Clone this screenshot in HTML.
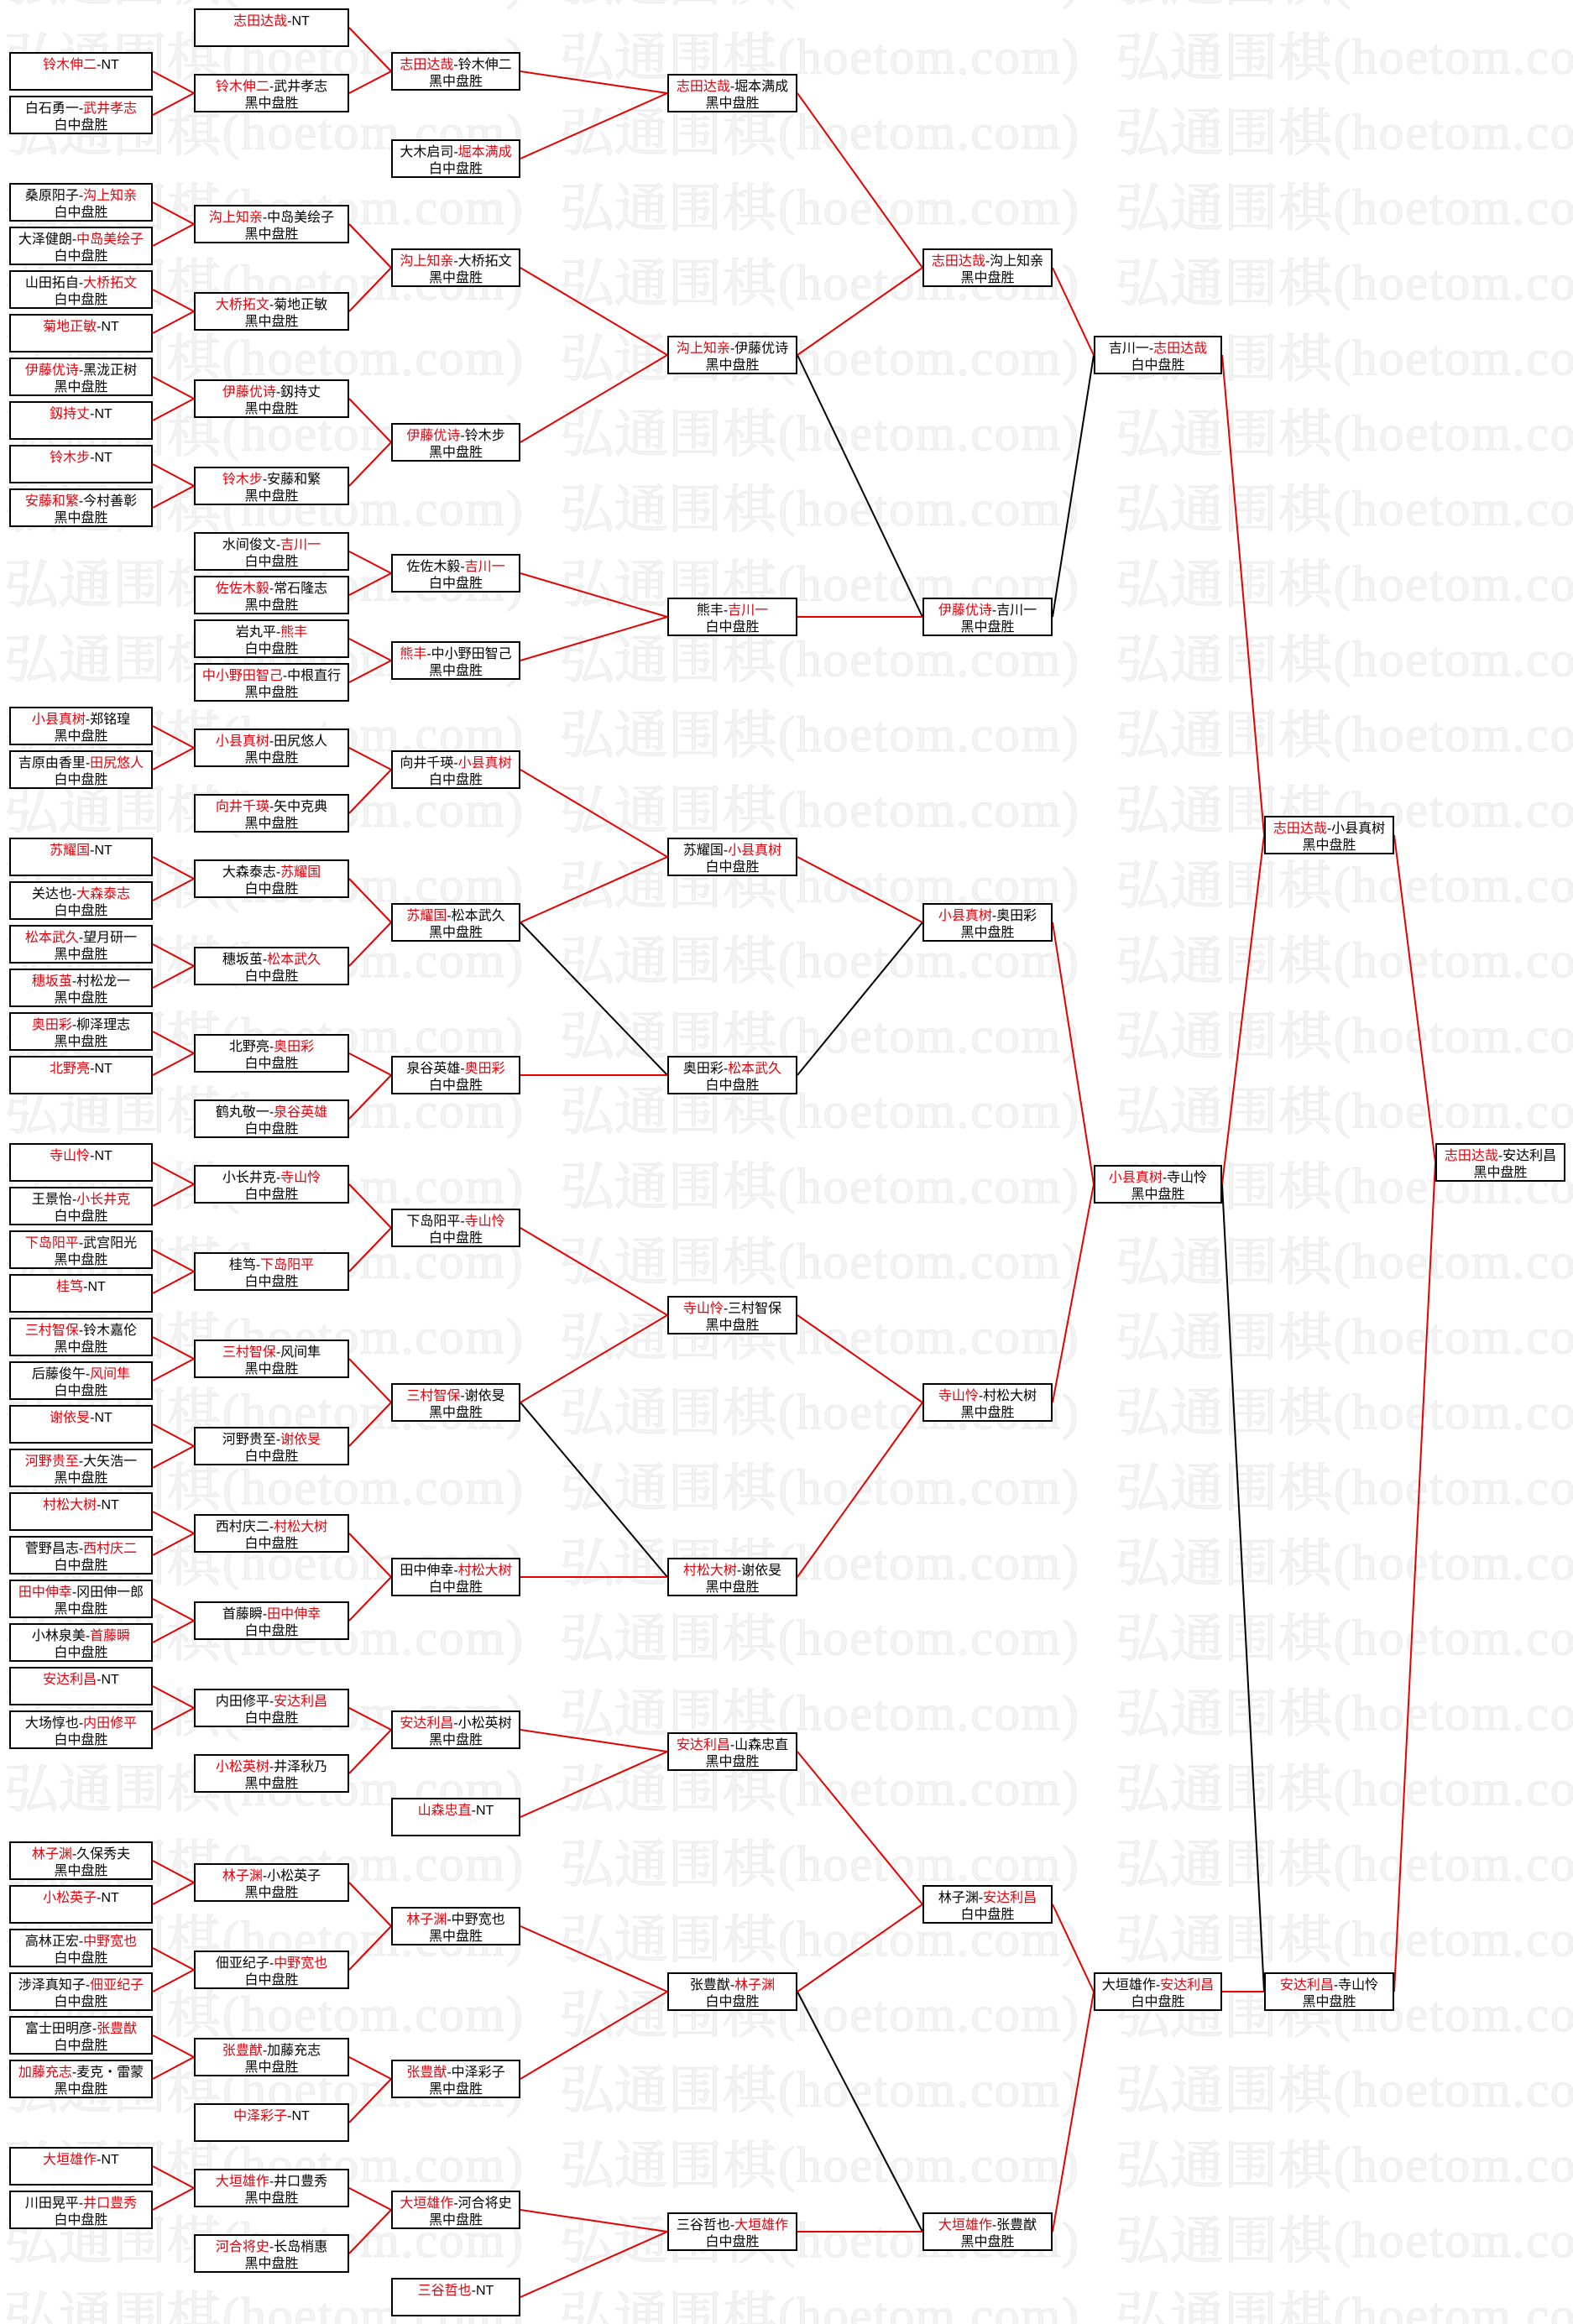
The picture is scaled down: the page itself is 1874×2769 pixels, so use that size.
<!DOCTYPE html>
<html><head><meta charset="utf-8">
<style>
html,body{margin:0;padding:0;background:#fff;}
svg{display:block;}
</style></head>
<body>
<svg xmlns="http://www.w3.org/2000/svg" width="1874" height="2769" viewBox="0 0 1874 2769">
<style>
.b rect{fill:#fff;stroke:#000;stroke-width:2}
.b text{font-family:"Liberation Sans","Noto Sans CJK SC",sans-serif;font-size:16px;text-anchor:middle;fill:#000}
.r{fill:#e8000b}
.lr{fill:none;stroke:#e60000;stroke-width:2;stroke-linejoin:round}
.lk{fill:none;stroke:#000;stroke-width:2;stroke-linejoin:round}
.wc{font-family:"Noto Serif CJK SC","Liberation Serif",serif;font-size:62px;fill:#f3f3f3;stroke:#e9e9e9;stroke-width:0.8}
.wa{font-family:"Liberation Serif",serif;font-size:60px;fill:#f3f3f3;stroke:#e9e9e9;stroke-width:0.8}
</style>
<defs>
<pattern id="wm" patternUnits="userSpaceOnUse" x="5" y="22" width="662" height="89.7">
<text class="wc" x="0" y="68" textLength="258" lengthAdjust="spacingAndGlyphs">弘通围棋</text>
<text class="wa" x="260" y="66" textLength="358" lengthAdjust="spacing">(hoetom.com)</text>
</pattern>
</defs>
<rect x="0" y="0" width="1874" height="2769" fill="#fff"/>
<rect x="0" y="0" width="1874" height="2769" fill="url(#wm)"/>

<!-- connectors -->
<g>
<polyline class="lr" points="182,85 231,111 182,137"/>
<polyline class="lr" points="182,241 231,267 182,293"/>
<polyline class="lr" points="182,345 231,371 182,397"/>
<polyline class="lr" points="182,449 231,475 182,501"/>
<polyline class="lr" points="182,553 231,579 182,605"/>
<polyline class="lr" points="182,865 231,891 182,917"/>
<polyline class="lr" points="182,1021 231,1047 182,1073"/>
<polyline class="lr" points="182,1125 231,1151 182,1177"/>
<polyline class="lr" points="182,1229 231,1255 182,1281"/>
<polyline class="lr" points="182,1385 231,1411 182,1437"/>
<polyline class="lr" points="182,1489 231,1515 182,1541"/>
<polyline class="lr" points="182,1593 231,1619 182,1645"/>
<polyline class="lr" points="182,1697 231,1723 182,1749"/>
<polyline class="lr" points="182,1801 231,1827 182,1853"/>
<polyline class="lr" points="182,1905 231,1931 182,1957"/>
<polyline class="lr" points="182,2009 231,2035 182,2061"/>
<polyline class="lr" points="182,2217 231,2243 182,2269"/>
<polyline class="lr" points="182,2321 231,2347 182,2373"/>
<polyline class="lr" points="182,2425 231,2451 182,2477"/>
<polyline class="lr" points="182,2581 231,2607 182,2633"/>

<polyline class="lr" points="416,33 466,85 416,111"/>
<polyline class="lr" points="416,267 466,319 416,371"/>
<polyline class="lr" points="416,475 466,527 416,579"/>
<polyline class="lr" points="416,657 466,683 416,709"/>
<polyline class="lr" points="416,761 466,787 416,813"/>
<polyline class="lr" points="416,891 466,917 416,969"/>
<polyline class="lr" points="416,1047 466,1099 416,1151"/>
<polyline class="lr" points="416,1255 466,1281 416,1333"/>
<polyline class="lr" points="416,1411 466,1463 416,1515"/>
<polyline class="lr" points="416,1619 466,1671 416,1723"/>
<polyline class="lr" points="416,1827 466,1879 416,1931"/>
<polyline class="lr" points="416,2035 466,2061 416,2113"/>
<polyline class="lr" points="416,2243 466,2295 416,2347"/>
<polyline class="lr" points="416,2451 466,2477 416,2529"/>
<polyline class="lr" points="416,2607 466,2633 416,2685"/>

<polyline class="lk" points="620,1099 795,1281"/>
<polyline class="lk" points="620,1671 795,1879"/>
<polyline class="lr" points="620,85 795,111 620,189"/>
<polyline class="lr" points="620,319 795,423 620,527"/>
<polyline class="lr" points="620,683 795,735 620,787"/>
<polyline class="lr" points="620,917 795,1021 620,1099"/>
<polyline class="lr" points="620,1281 795,1281"/>
<polyline class="lr" points="620,1463 795,1567 620,1671"/>
<polyline class="lr" points="620,1879 795,1879"/>
<polyline class="lr" points="620,2061 795,2087 620,2165"/>
<polyline class="lr" points="620,2295 795,2373 620,2477"/>
<polyline class="lr" points="620,2633 795,2659 620,2737"/>

<polyline class="lk" points="950,423 1099,735"/>
<polyline class="lk" points="950,1281 1099,1099"/>
<polyline class="lk" points="950,2373 1099,2659"/>
<polyline class="lr" points="950,111 1099,319 950,423"/>
<polyline class="lr" points="950,735 1099,735"/>
<polyline class="lr" points="950,1021 1099,1099"/>
<polyline class="lr" points="950,1567 1099,1671 950,1879"/>
<polyline class="lr" points="950,2087 1099,2269 950,2373"/>
<polyline class="lr" points="950,2659 1099,2659"/>

<polyline class="lk" points="1254,735 1303,423"/>
<polyline class="lr" points="1254,319 1303,423"/>
<polyline class="lr" points="1254,1099 1303,1411 1254,1671"/>
<polyline class="lr" points="1254,2269 1303,2373 1254,2659"/>

<polyline class="lk" points="1456,1411 1506,2373"/>
<polyline class="lr" points="1456,423 1506,995 1456,1411"/>
<polyline class="lr" points="1456,2373 1506,2373"/>

<polyline class="lr" points="1661,995 1710,1385 1661,2373"/>
</g>

<!-- Column A -->
<g class="b">
<g transform="translate(11,62)"><rect x="1" y="1" width="169" height="44"/><text x="85.5" y="20"><tspan class="r">铃木伸二</tspan>-NT</text></g>
<g transform="translate(11,114)"><rect x="1" y="1" width="169" height="44"/><text x="85.5" y="20">白石勇一-<tspan class="r">武井孝志</tspan></text><text x="85.5" y="40">白中盘胜</text></g>
<g transform="translate(11,218)"><rect x="1" y="1" width="169" height="44"/><text x="85.5" y="20">桑原阳子-<tspan class="r">沟上知亲</tspan></text><text x="85.5" y="40">白中盘胜</text></g>
<g transform="translate(11,270)"><rect x="1" y="1" width="169" height="44"/><text x="85.5" y="20">大泽健朗-<tspan class="r">中岛美绘子</tspan></text><text x="85.5" y="40">白中盘胜</text></g>
<g transform="translate(11,322)"><rect x="1" y="1" width="169" height="44"/><text x="85.5" y="20">山田拓自-<tspan class="r">大桥拓文</tspan></text><text x="85.5" y="40">白中盘胜</text></g>
<g transform="translate(11,374)"><rect x="1" y="1" width="169" height="44"/><text x="85.5" y="20"><tspan class="r">菊地正敏</tspan>-NT</text></g>
<g transform="translate(11,426)"><rect x="1" y="1" width="169" height="44"/><text x="85.5" y="20"><tspan class="r">伊藤优诗</tspan>-黑泷正树</text><text x="85.5" y="40">黑中盘胜</text></g>
<g transform="translate(11,478)"><rect x="1" y="1" width="169" height="44"/><text x="85.5" y="20"><tspan class="r">釼持丈</tspan>-NT</text></g>
<g transform="translate(11,530)"><rect x="1" y="1" width="169" height="44"/><text x="85.5" y="20"><tspan class="r">铃木步</tspan>-NT</text></g>
<g transform="translate(11,582)"><rect x="1" y="1" width="169" height="44"/><text x="85.5" y="20"><tspan class="r">安藤和繁</tspan>-今村善彰</text><text x="85.5" y="40">黑中盘胜</text></g>
<g transform="translate(11,842)"><rect x="1" y="1" width="169" height="44"/><text x="85.5" y="20"><tspan class="r">小县真树</tspan>-郑铭瑝</text><text x="85.5" y="40">黑中盘胜</text></g>
<g transform="translate(11,894)"><rect x="1" y="1" width="169" height="44"/><text x="85.5" y="20">吉原由香里-<tspan class="r">田尻悠人</tspan></text><text x="85.5" y="40">白中盘胜</text></g>
<g transform="translate(11,998)"><rect x="1" y="1" width="169" height="44"/><text x="85.5" y="20"><tspan class="r">苏耀国</tspan>-NT</text></g>
<g transform="translate(11,1050)"><rect x="1" y="1" width="169" height="44"/><text x="85.5" y="20">关达也-<tspan class="r">大森泰志</tspan></text><text x="85.5" y="40">白中盘胜</text></g>
<g transform="translate(11,1102)"><rect x="1" y="1" width="169" height="44"/><text x="85.5" y="20"><tspan class="r">松本武久</tspan>-望月研一</text><text x="85.5" y="40">黑中盘胜</text></g>
<g transform="translate(11,1154)"><rect x="1" y="1" width="169" height="44"/><text x="85.5" y="20"><tspan class="r">穗坂茧</tspan>-村松龙一</text><text x="85.5" y="40">黑中盘胜</text></g>
<g transform="translate(11,1206)"><rect x="1" y="1" width="169" height="44"/><text x="85.5" y="20"><tspan class="r">奥田彩</tspan>-柳泽理志</text><text x="85.5" y="40">黑中盘胜</text></g>
<g transform="translate(11,1258)"><rect x="1" y="1" width="169" height="44"/><text x="85.5" y="20"><tspan class="r">北野亮</tspan>-NT</text></g>
<g transform="translate(11,1362)"><rect x="1" y="1" width="169" height="44"/><text x="85.5" y="20"><tspan class="r">寺山怜</tspan>-NT</text></g>
<g transform="translate(11,1414)"><rect x="1" y="1" width="169" height="44"/><text x="85.5" y="20">王景怡-<tspan class="r">小长井克</tspan></text><text x="85.5" y="40">白中盘胜</text></g>
<g transform="translate(11,1466)"><rect x="1" y="1" width="169" height="44"/><text x="85.5" y="20"><tspan class="r">下岛阳平</tspan>-武宫阳光</text><text x="85.5" y="40">黑中盘胜</text></g>
<g transform="translate(11,1518)"><rect x="1" y="1" width="169" height="44"/><text x="85.5" y="20"><tspan class="r">桂笃</tspan>-NT</text></g>
<g transform="translate(11,1570)"><rect x="1" y="1" width="169" height="44"/><text x="85.5" y="20"><tspan class="r">三村智保</tspan>-铃木嘉伦</text><text x="85.5" y="40">黑中盘胜</text></g>
<g transform="translate(11,1622)"><rect x="1" y="1" width="169" height="44"/><text x="85.5" y="20">后藤俊午-<tspan class="r">风间隼</tspan></text><text x="85.5" y="40">白中盘胜</text></g>
<g transform="translate(11,1674)"><rect x="1" y="1" width="169" height="44"/><text x="85.5" y="20"><tspan class="r">谢依旻</tspan>-NT</text></g>
<g transform="translate(11,1726)"><rect x="1" y="1" width="169" height="44"/><text x="85.5" y="20"><tspan class="r">河野贵至</tspan>-大矢浩一</text><text x="85.5" y="40">黑中盘胜</text></g>
<g transform="translate(11,1778)"><rect x="1" y="1" width="169" height="44"/><text x="85.5" y="20"><tspan class="r">村松大树</tspan>-NT</text></g>
<g transform="translate(11,1830)"><rect x="1" y="1" width="169" height="44"/><text x="85.5" y="20">菅野昌志-<tspan class="r">西村庆二</tspan></text><text x="85.5" y="40">白中盘胜</text></g>
<g transform="translate(11,1882)"><rect x="1" y="1" width="169" height="44"/><text x="85.5" y="20"><tspan class="r">田中伸幸</tspan>-冈田伸一郎</text><text x="85.5" y="40">黑中盘胜</text></g>
<g transform="translate(11,1934)"><rect x="1" y="1" width="169" height="44"/><text x="85.5" y="20">小林泉美-<tspan class="r">首藤瞬</tspan></text><text x="85.5" y="40">白中盘胜</text></g>
<g transform="translate(11,1986)"><rect x="1" y="1" width="169" height="44"/><text x="85.5" y="20"><tspan class="r">安达利昌</tspan>-NT</text></g>
<g transform="translate(11,2038)"><rect x="1" y="1" width="169" height="44"/><text x="85.5" y="20">大场惇也-<tspan class="r">内田修平</tspan></text><text x="85.5" y="40">白中盘胜</text></g>
<g transform="translate(11,2194)"><rect x="1" y="1" width="169" height="44"/><text x="85.5" y="20"><tspan class="r">林子渊</tspan>-久保秀夫</text><text x="85.5" y="40">黑中盘胜</text></g>
<g transform="translate(11,2246)"><rect x="1" y="1" width="169" height="44"/><text x="85.5" y="20"><tspan class="r">小松英子</tspan>-NT</text></g>
<g transform="translate(11,2298)"><rect x="1" y="1" width="169" height="44"/><text x="85.5" y="20">高林正宏-<tspan class="r">中野宽也</tspan></text><text x="85.5" y="40">白中盘胜</text></g>
<g transform="translate(11,2350)"><rect x="1" y="1" width="169" height="44"/><text x="85.5" y="20">涉泽真知子-<tspan class="r">佃亚纪子</tspan></text><text x="85.5" y="40">白中盘胜</text></g>
<g transform="translate(11,2402)"><rect x="1" y="1" width="169" height="44"/><text x="85.5" y="20">富士田明彦-<tspan class="r">张豊猷</tspan></text><text x="85.5" y="40">白中盘胜</text></g>
<g transform="translate(11,2454)"><rect x="1" y="1" width="169" height="44"/><text x="85.5" y="20"><tspan class="r">加藤充志</tspan>-麦克・雷蒙</text><text x="85.5" y="40">黑中盘胜</text></g>
<g transform="translate(11,2558)"><rect x="1" y="1" width="169" height="44"/><text x="85.5" y="20"><tspan class="r">大垣雄作</tspan>-NT</text></g>
<g transform="translate(11,2610)"><rect x="1" y="1" width="169" height="44"/><text x="85.5" y="20">川田晃平-<tspan class="r">井口豊秀</tspan></text><text x="85.5" y="40">白中盘胜</text></g>
</g>

<!-- Column B -->
<g class="b">
<g transform="translate(231,10)"><rect x="1" y="1" width="183" height="44"/><text x="92.5" y="20"><tspan class="r">志田达哉</tspan>-NT</text></g>
<g transform="translate(231,88)"><rect x="1" y="1" width="183" height="44"/><text x="92.5" y="20"><tspan class="r">铃木伸二</tspan>-武井孝志</text><text x="92.5" y="40">黑中盘胜</text></g>
<g transform="translate(231,244)"><rect x="1" y="1" width="183" height="44"/><text x="92.5" y="20"><tspan class="r">沟上知亲</tspan>-中岛美绘子</text><text x="92.5" y="40">黑中盘胜</text></g>
<g transform="translate(231,348)"><rect x="1" y="1" width="183" height="44"/><text x="92.5" y="20"><tspan class="r">大桥拓文</tspan>-菊地正敏</text><text x="92.5" y="40">黑中盘胜</text></g>
<g transform="translate(231,452)"><rect x="1" y="1" width="183" height="44"/><text x="92.5" y="20"><tspan class="r">伊藤优诗</tspan>-釼持丈</text><text x="92.5" y="40">黑中盘胜</text></g>
<g transform="translate(231,556)"><rect x="1" y="1" width="183" height="44"/><text x="92.5" y="20"><tspan class="r">铃木步</tspan>-安藤和繁</text><text x="92.5" y="40">黑中盘胜</text></g>
<g transform="translate(231,634)"><rect x="1" y="1" width="183" height="44"/><text x="92.5" y="20">水间俊文-<tspan class="r">吉川一</tspan></text><text x="92.5" y="40">白中盘胜</text></g>
<g transform="translate(231,686)"><rect x="1" y="1" width="183" height="44"/><text x="92.5" y="20"><tspan class="r">佐佐木毅</tspan>-常石隆志</text><text x="92.5" y="40">黑中盘胜</text></g>
<g transform="translate(231,738)"><rect x="1" y="1" width="183" height="44"/><text x="92.5" y="20">岩丸平-<tspan class="r">熊丰</tspan></text><text x="92.5" y="40">白中盘胜</text></g>
<g transform="translate(231,790)"><rect x="1" y="1" width="183" height="44"/><text x="92.5" y="20"><tspan class="r">中小野田智己</tspan>-中根直行</text><text x="92.5" y="40">黑中盘胜</text></g>
<g transform="translate(231,868)"><rect x="1" y="1" width="183" height="44"/><text x="92.5" y="20"><tspan class="r">小县真树</tspan>-田尻悠人</text><text x="92.5" y="40">黑中盘胜</text></g>
<g transform="translate(231,946)"><rect x="1" y="1" width="183" height="44"/><text x="92.5" y="20"><tspan class="r">向井千瑛</tspan>-矢中克典</text><text x="92.5" y="40">黑中盘胜</text></g>
<g transform="translate(231,1024)"><rect x="1" y="1" width="183" height="44"/><text x="92.5" y="20">大森泰志-<tspan class="r">苏耀国</tspan></text><text x="92.5" y="40">白中盘胜</text></g>
<g transform="translate(231,1128)"><rect x="1" y="1" width="183" height="44"/><text x="92.5" y="20">穗坂茧-<tspan class="r">松本武久</tspan></text><text x="92.5" y="40">白中盘胜</text></g>
<g transform="translate(231,1232)"><rect x="1" y="1" width="183" height="44"/><text x="92.5" y="20">北野亮-<tspan class="r">奥田彩</tspan></text><text x="92.5" y="40">白中盘胜</text></g>
<g transform="translate(231,1310)"><rect x="1" y="1" width="183" height="44"/><text x="92.5" y="20">鹤丸敬一-<tspan class="r">泉谷英雄</tspan></text><text x="92.5" y="40">白中盘胜</text></g>
<g transform="translate(231,1388)"><rect x="1" y="1" width="183" height="44"/><text x="92.5" y="20">小长井克-<tspan class="r">寺山怜</tspan></text><text x="92.5" y="40">白中盘胜</text></g>
<g transform="translate(231,1492)"><rect x="1" y="1" width="183" height="44"/><text x="92.5" y="20">桂笃-<tspan class="r">下岛阳平</tspan></text><text x="92.5" y="40">白中盘胜</text></g>
<g transform="translate(231,1596)"><rect x="1" y="1" width="183" height="44"/><text x="92.5" y="20"><tspan class="r">三村智保</tspan>-风间隼</text><text x="92.5" y="40">黑中盘胜</text></g>
<g transform="translate(231,1700)"><rect x="1" y="1" width="183" height="44"/><text x="92.5" y="20">河野贵至-<tspan class="r">谢依旻</tspan></text><text x="92.5" y="40">白中盘胜</text></g>
<g transform="translate(231,1804)"><rect x="1" y="1" width="183" height="44"/><text x="92.5" y="20">西村庆二-<tspan class="r">村松大树</tspan></text><text x="92.5" y="40">白中盘胜</text></g>
<g transform="translate(231,1908)"><rect x="1" y="1" width="183" height="44"/><text x="92.5" y="20">首藤瞬-<tspan class="r">田中伸幸</tspan></text><text x="92.5" y="40">白中盘胜</text></g>
<g transform="translate(231,2012)"><rect x="1" y="1" width="183" height="44"/><text x="92.5" y="20">内田修平-<tspan class="r">安达利昌</tspan></text><text x="92.5" y="40">白中盘胜</text></g>
<g transform="translate(231,2090)"><rect x="1" y="1" width="183" height="44"/><text x="92.5" y="20"><tspan class="r">小松英树</tspan>-井泽秋乃</text><text x="92.5" y="40">黑中盘胜</text></g>
<g transform="translate(231,2220)"><rect x="1" y="1" width="183" height="44"/><text x="92.5" y="20"><tspan class="r">林子渊</tspan>-小松英子</text><text x="92.5" y="40">黑中盘胜</text></g>
<g transform="translate(231,2324)"><rect x="1" y="1" width="183" height="44"/><text x="92.5" y="20">佃亚纪子-<tspan class="r">中野宽也</tspan></text><text x="92.5" y="40">白中盘胜</text></g>
<g transform="translate(231,2428)"><rect x="1" y="1" width="183" height="44"/><text x="92.5" y="20"><tspan class="r">张豊猷</tspan>-加藤充志</text><text x="92.5" y="40">黑中盘胜</text></g>
<g transform="translate(231,2506)"><rect x="1" y="1" width="183" height="44"/><text x="92.5" y="20"><tspan class="r">中泽彩子</tspan>-NT</text></g>
<g transform="translate(231,2584)"><rect x="1" y="1" width="183" height="44"/><text x="92.5" y="20"><tspan class="r">大垣雄作</tspan>-井口豊秀</text><text x="92.5" y="40">黑中盘胜</text></g>
<g transform="translate(231,2662)"><rect x="1" y="1" width="183" height="44"/><text x="92.5" y="20"><tspan class="r">河合将史</tspan>-长岛梢惠</text><text x="92.5" y="40">黑中盘胜</text></g>
</g>

<!-- Column C -->
<g class="b">
<g transform="translate(466,62)"><rect x="1" y="1" width="152" height="44"/><text x="77" y="20"><tspan class="r">志田达哉</tspan>-铃木伸二</text><text x="77" y="40">黑中盘胜</text></g>
<g transform="translate(466,166)"><rect x="1" y="1" width="152" height="44"/><text x="77" y="20">大木启司-<tspan class="r">堀本满成</tspan></text><text x="77" y="40">白中盘胜</text></g>
<g transform="translate(466,296)"><rect x="1" y="1" width="152" height="44"/><text x="77" y="20"><tspan class="r">沟上知亲</tspan>-大桥拓文</text><text x="77" y="40">黑中盘胜</text></g>
<g transform="translate(466,504)"><rect x="1" y="1" width="152" height="44"/><text x="77" y="20"><tspan class="r">伊藤优诗</tspan>-铃木步</text><text x="77" y="40">黑中盘胜</text></g>
<g transform="translate(466,660)"><rect x="1" y="1" width="152" height="44"/><text x="77" y="20">佐佐木毅-<tspan class="r">吉川一</tspan></text><text x="77" y="40">白中盘胜</text></g>
<g transform="translate(466,764)"><rect x="1" y="1" width="152" height="44"/><text x="77" y="20"><tspan class="r">熊丰</tspan>-中小野田智己</text><text x="77" y="40">黑中盘胜</text></g>
<g transform="translate(466,894)"><rect x="1" y="1" width="152" height="44"/><text x="77" y="20">向井千瑛-<tspan class="r">小县真树</tspan></text><text x="77" y="40">白中盘胜</text></g>
<g transform="translate(466,1076)"><rect x="1" y="1" width="152" height="44"/><text x="77" y="20"><tspan class="r">苏耀国</tspan>-松本武久</text><text x="77" y="40">黑中盘胜</text></g>
<g transform="translate(466,1258)"><rect x="1" y="1" width="152" height="44"/><text x="77" y="20">泉谷英雄-<tspan class="r">奥田彩</tspan></text><text x="77" y="40">白中盘胜</text></g>
<g transform="translate(466,1440)"><rect x="1" y="1" width="152" height="44"/><text x="77" y="20">下岛阳平-<tspan class="r">寺山怜</tspan></text><text x="77" y="40">白中盘胜</text></g>
<g transform="translate(466,1648)"><rect x="1" y="1" width="152" height="44"/><text x="77" y="20"><tspan class="r">三村智保</tspan>-谢依旻</text><text x="77" y="40">黑中盘胜</text></g>
<g transform="translate(466,1856)"><rect x="1" y="1" width="152" height="44"/><text x="77" y="20">田中伸幸-<tspan class="r">村松大树</tspan></text><text x="77" y="40">白中盘胜</text></g>
<g transform="translate(466,2038)"><rect x="1" y="1" width="152" height="44"/><text x="77" y="20"><tspan class="r">安达利昌</tspan>-小松英树</text><text x="77" y="40">黑中盘胜</text></g>
<g transform="translate(466,2142)"><rect x="1" y="1" width="152" height="44"/><text x="77" y="20"><tspan class="r">山森忠直</tspan>-NT</text></g>
<g transform="translate(466,2272)"><rect x="1" y="1" width="152" height="44"/><text x="77" y="20"><tspan class="r">林子渊</tspan>-中野宽也</text><text x="77" y="40">黑中盘胜</text></g>
<g transform="translate(466,2454)"><rect x="1" y="1" width="152" height="44"/><text x="77" y="20"><tspan class="r">张豊猷</tspan>-中泽彩子</text><text x="77" y="40">黑中盘胜</text></g>
<g transform="translate(466,2610)"><rect x="1" y="1" width="152" height="44"/><text x="77" y="20"><tspan class="r">大垣雄作</tspan>-河合将史</text><text x="77" y="40">黑中盘胜</text></g>
<g transform="translate(466,2714)"><rect x="1" y="1" width="152" height="44"/><text x="77" y="20"><tspan class="r">三谷哲也</tspan>-NT</text></g>
</g>

<!-- Column D -->
<g class="b">
<g transform="translate(795,88)"><rect x="1" y="1" width="153" height="44"/><text x="77.5" y="20"><tspan class="r">志田达哉</tspan>-堀本满成</text><text x="77.5" y="40">黑中盘胜</text></g>
<g transform="translate(795,400)"><rect x="1" y="1" width="153" height="44"/><text x="77.5" y="20"><tspan class="r">沟上知亲</tspan>-伊藤优诗</text><text x="77.5" y="40">黑中盘胜</text></g>
<g transform="translate(795,712)"><rect x="1" y="1" width="153" height="44"/><text x="77.5" y="20">熊丰-<tspan class="r">吉川一</tspan></text><text x="77.5" y="40">白中盘胜</text></g>
<g transform="translate(795,998)"><rect x="1" y="1" width="153" height="44"/><text x="77.5" y="20">苏耀国-<tspan class="r">小县真树</tspan></text><text x="77.5" y="40">白中盘胜</text></g>
<g transform="translate(795,1258)"><rect x="1" y="1" width="153" height="44"/><text x="77.5" y="20">奥田彩-<tspan class="r">松本武久</tspan></text><text x="77.5" y="40">白中盘胜</text></g>
<g transform="translate(795,1544)"><rect x="1" y="1" width="153" height="44"/><text x="77.5" y="20"><tspan class="r">寺山怜</tspan>-三村智保</text><text x="77.5" y="40">黑中盘胜</text></g>
<g transform="translate(795,1856)"><rect x="1" y="1" width="153" height="44"/><text x="77.5" y="20"><tspan class="r">村松大树</tspan>-谢依旻</text><text x="77.5" y="40">黑中盘胜</text></g>
<g transform="translate(795,2064)"><rect x="1" y="1" width="153" height="44"/><text x="77.5" y="20"><tspan class="r">安达利昌</tspan>-山森忠直</text><text x="77.5" y="40">黑中盘胜</text></g>
<g transform="translate(795,2350)"><rect x="1" y="1" width="153" height="44"/><text x="77.5" y="20">张豊猷-<tspan class="r">林子渊</tspan></text><text x="77.5" y="40">白中盘胜</text></g>
<g transform="translate(795,2636)"><rect x="1" y="1" width="153" height="44"/><text x="77.5" y="20">三谷哲也-<tspan class="r">大垣雄作</tspan></text><text x="77.5" y="40">白中盘胜</text></g>
</g>

<!-- Column E -->
<g class="b">
<g transform="translate(1099,296)"><rect x="1" y="1" width="153" height="44"/><text x="77.5" y="20"><tspan class="r">志田达哉</tspan>-沟上知亲</text><text x="77.5" y="40">黑中盘胜</text></g>
<g transform="translate(1099,712)"><rect x="1" y="1" width="153" height="44"/><text x="77.5" y="20"><tspan class="r">伊藤优诗</tspan>-吉川一</text><text x="77.5" y="40">黑中盘胜</text></g>
<g transform="translate(1099,1076)"><rect x="1" y="1" width="153" height="44"/><text x="77.5" y="20"><tspan class="r">小县真树</tspan>-奥田彩</text><text x="77.5" y="40">黑中盘胜</text></g>
<g transform="translate(1099,1648)"><rect x="1" y="1" width="153" height="44"/><text x="77.5" y="20"><tspan class="r">寺山怜</tspan>-村松大树</text><text x="77.5" y="40">黑中盘胜</text></g>
<g transform="translate(1099,2246)"><rect x="1" y="1" width="153" height="44"/><text x="77.5" y="20">林子渊-<tspan class="r">安达利昌</tspan></text><text x="77.5" y="40">白中盘胜</text></g>
<g transform="translate(1099,2636)"><rect x="1" y="1" width="153" height="44"/><text x="77.5" y="20"><tspan class="r">大垣雄作</tspan>-张豊猷</text><text x="77.5" y="40">黑中盘胜</text></g>
</g>

<!-- Column F -->
<g class="b">
<g transform="translate(1303,400)"><rect x="1" y="1" width="151" height="44"/><text x="76.5" y="20">吉川一-<tspan class="r">志田达哉</tspan></text><text x="76.5" y="40">白中盘胜</text></g>
<g transform="translate(1303,1388)"><rect x="1" y="1" width="151" height="44"/><text x="76.5" y="20"><tspan class="r">小县真树</tspan>-寺山怜</text><text x="76.5" y="40">黑中盘胜</text></g>
<g transform="translate(1303,2350)"><rect x="1" y="1" width="151" height="44"/><text x="76.5" y="20">大垣雄作-<tspan class="r">安达利昌</tspan></text><text x="76.5" y="40">白中盘胜</text></g>
</g>

<!-- Column G -->
<g class="b">
<g transform="translate(1506,972)"><rect x="1" y="1" width="153" height="44"/><text x="77.5" y="20"><tspan class="r">志田达哉</tspan>-小县真树</text><text x="77.5" y="40">黑中盘胜</text></g>
<g transform="translate(1506,2350)"><rect x="1" y="1" width="153" height="44"/><text x="77.5" y="20"><tspan class="r">安达利昌</tspan>-寺山怜</text><text x="77.5" y="40">黑中盘胜</text></g>
</g>

<!-- Column H -->
<g class="b">
<g transform="translate(1710,1362)"><rect x="1" y="1" width="153" height="44"/><text x="77.5" y="20"><tspan class="r">志田达哉</tspan>-安达利昌</text><text x="77.5" y="40">黑中盘胜</text></g>
</g>
</svg>
</body></html>
